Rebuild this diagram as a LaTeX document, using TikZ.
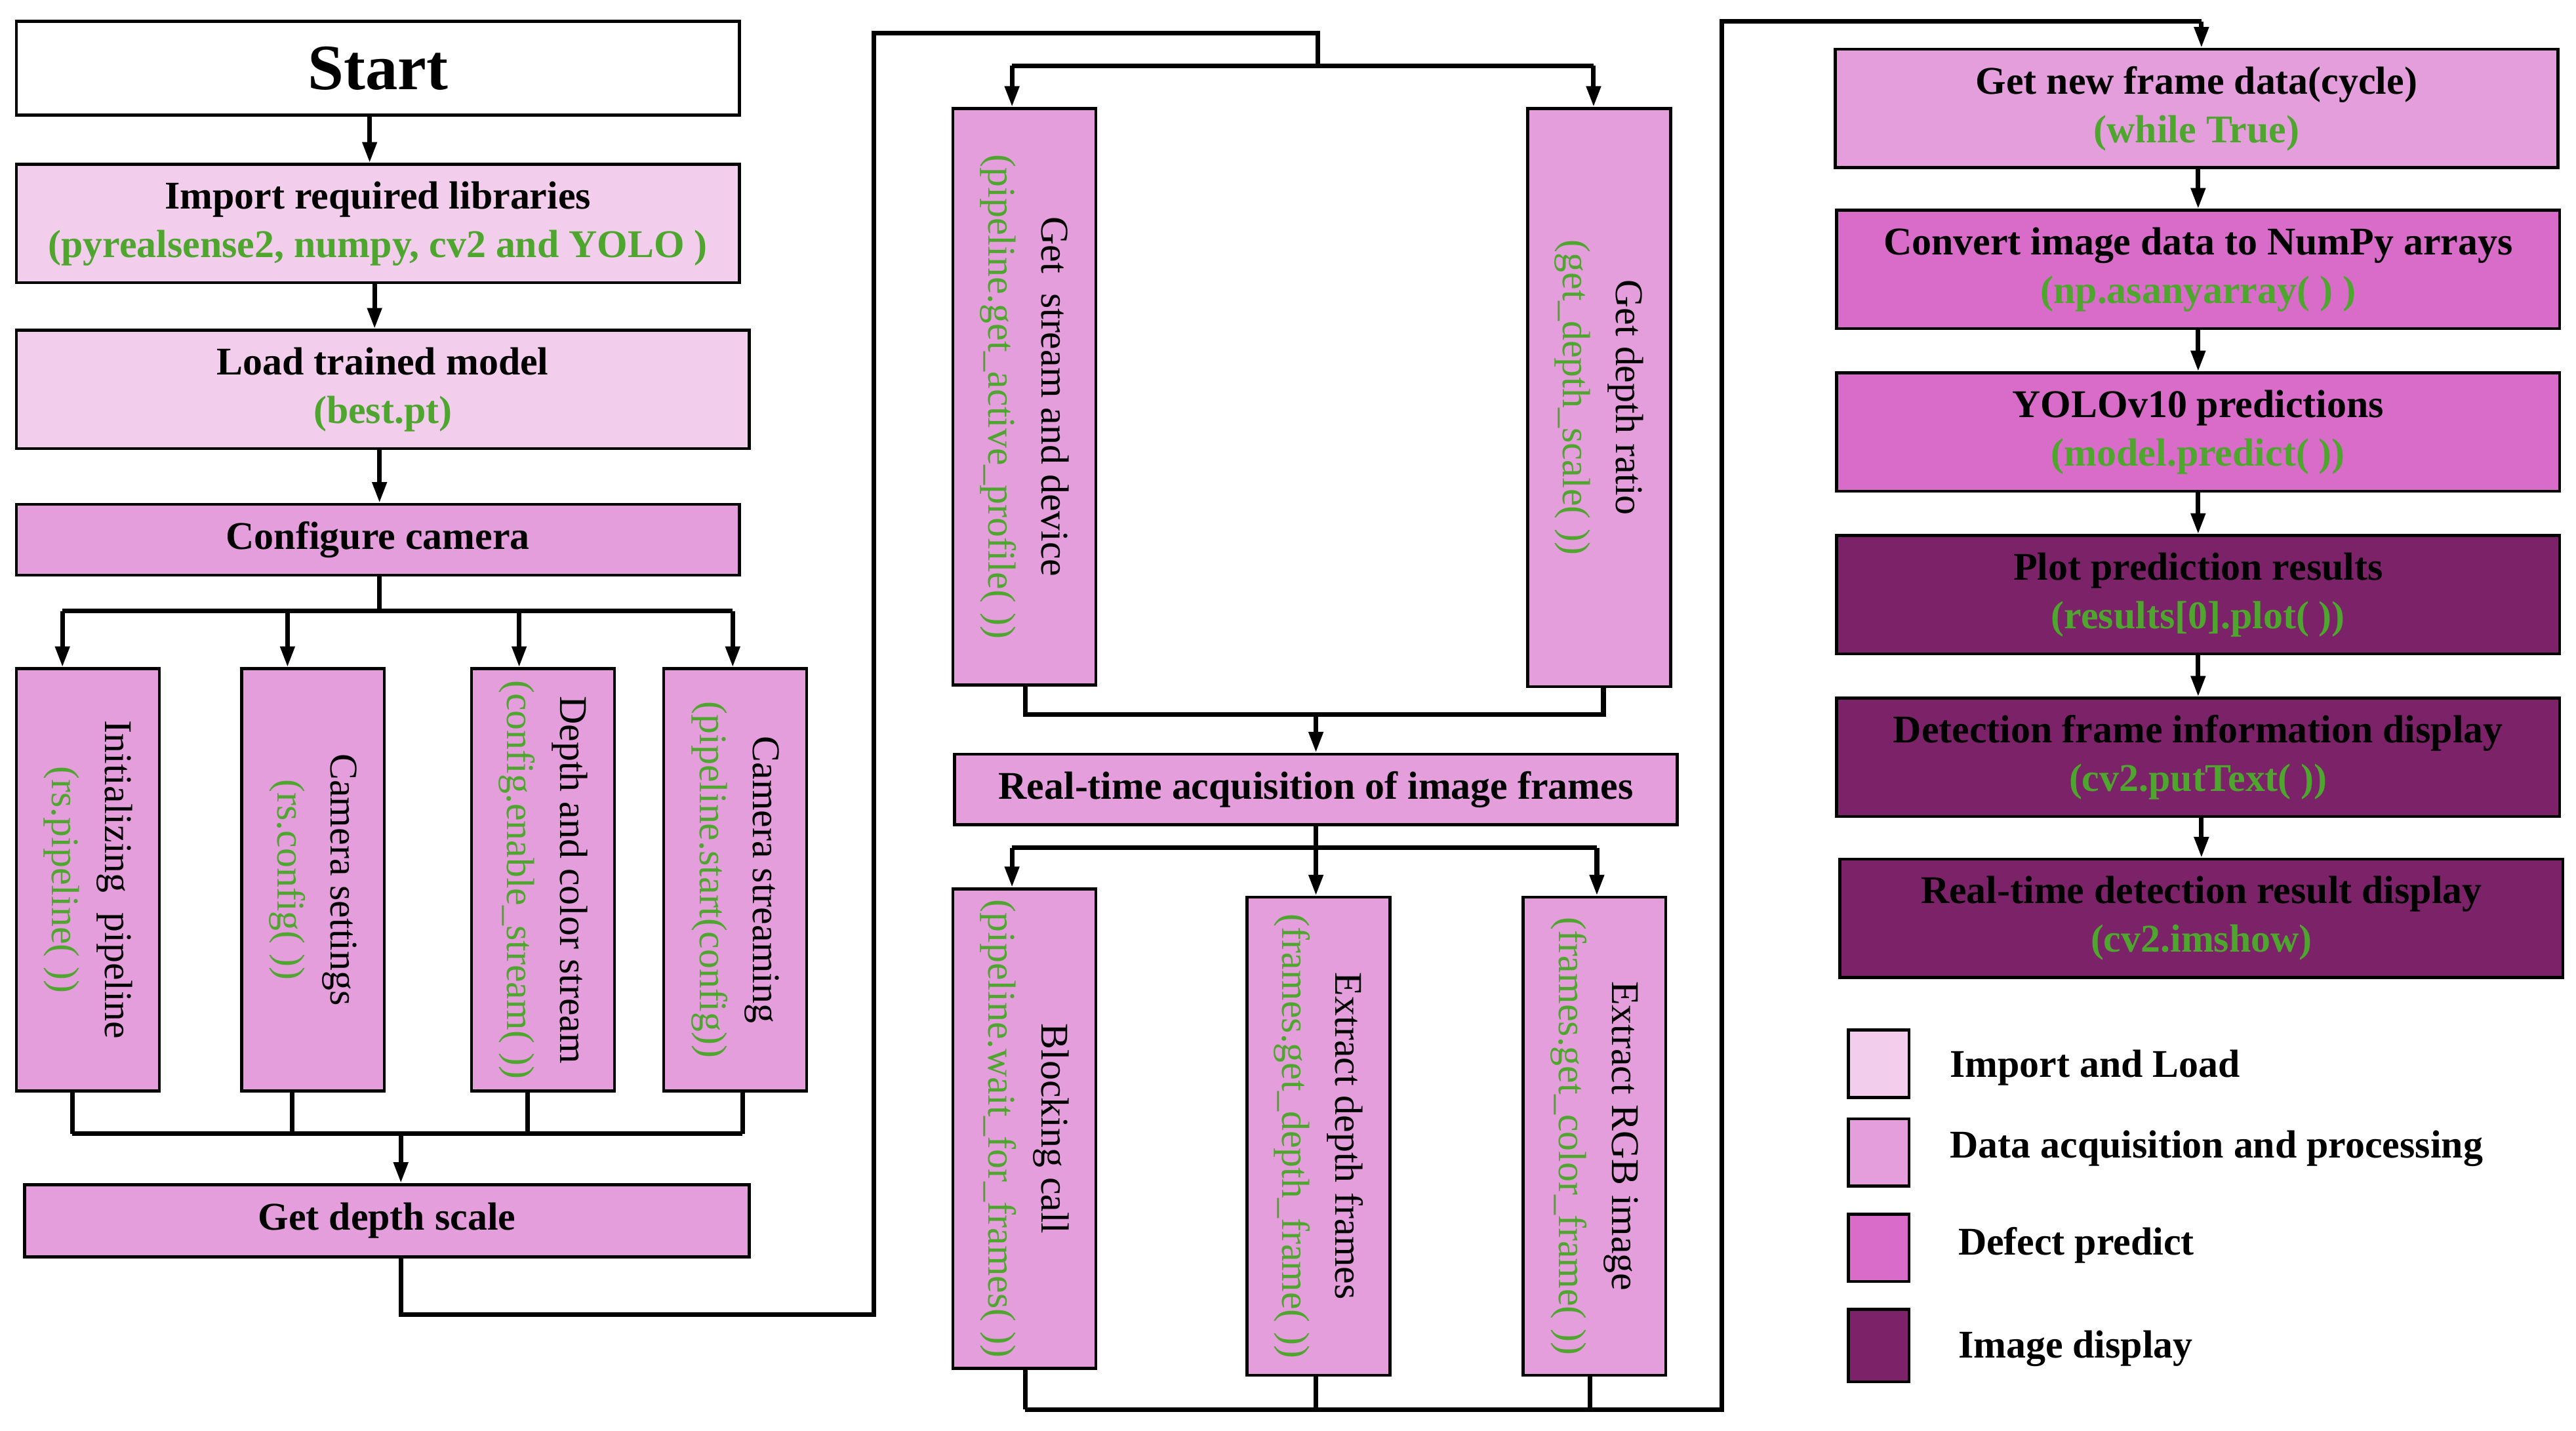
\documentclass[tikz,border=0pt]{standalone}
\usepackage{fontspec}
\setmainfont{Liberation Serif}
\usetikzlibrary{arrows.meta}
\definecolor{cLight}{HTML}{F2CDEC}
\definecolor{cMed}{HTML}{E49EDC}
\definecolor{cDef}{HTML}{D86CC8}
\definecolor{cDark}{HTML}{7B2268}
\definecolor{cGreen}{HTML}{4EA62E}
\newcommand\mybox[7]{\node[bx,#6, minimum width={#4*0.025cm-#2*0.025cm}, minimum height={#5*0.025cm-#3*0.025cm}] (#1) at ({(#2+#4)/2},{(#3+#5)/2}) {#7};}
\newcommand\gr[1]{\textcolor{cGreen}{#1}}
\begin{document}
\begin{tikzpicture}[x=0.025cm,y=-0.025cm,
  bx/.style={draw=black,line width=1.3pt,inner sep=0pt,align=center,font=\fontsize{17}{21}\selectfont\bfseries},
  rt/.style={rotate=-90,align=center,font=\fontsize{17}{23}\selectfont},
  ln/.style={line width=2pt},
  ar/.style={line width=2pt,-{Triangle[length=9pt,width=6pt]}},
  lg/.style={anchor=west,font=\fontsize{17}{21}\selectfont\bfseries}]
\useasboundingbox (0,0) rectangle (1568,871);
% left column
\mybox{start}{10}{13}{450}{70}{fill=white,font=\fontsize{28}{32}\selectfont\bfseries}{Start}
\mybox{imp}{10}{100}{450}{172}{fill=cLight}{Import required libraries\\\gr{(pyrealsense2, numpy, cv2 and YOLO )}}
\mybox{load}{10}{201}{456}{273}{fill=cLight}{Load trained model\\\gr{(best.pt)}}
\mybox{cfg}{10}{307}{450}{350}{fill=cMed}{Configure camera}
\mybox{v1}{10}{407}{97}{664}{fill=cMed}{}
\mybox{v2}{147}{407}{234}{664}{fill=cMed}{}
\mybox{v3}{287}{407}{374}{664}{fill=cMed}{}
\mybox{v4}{404}{407}{491}{664}{fill=cMed}{}
\node[rt] at (v1.center) {Initializing\ \ pipeline\\\gr{(rs.pipeline( ))}};
\node[rt] at (v2.center) {Camera settings\\\gr{(rs.config( ))}};
\node[rt] at (v3.center) {Depth and color stream\\\gr{(config.enable\_stream( ))}};
\node[rt] at (v4.center) {Camera streaming\\\gr{(pipeline.start(config))}};
\mybox{gds}{15}{721}{456}{765}{fill=cMed}{Get depth scale}
% middle column
\mybox{m1}{580}{66}{667}{417}{fill=cMed}{}
\mybox{m2}{930}{66}{1017}{418}{fill=cMed}{}
\node[rt] at (m1.center) {Get\ \ stream and device\\\gr{(pipeline.get\_active\_profile( ))}};
\node[rt] at (m2.center) {Get depth ratio\\\gr{(get\_depth\_scale( ))}};
\mybox{acq}{581}{459}{1021}{502}{fill=cMed}{Real-time acquisition of image frames}
\mybox{b1}{580}{541}{667}{833}{fill=cMed}{}
\mybox{b2}{759}{546}{846}{837}{fill=cMed}{}
\mybox{b3}{927}{546}{1014}{837}{fill=cMed}{}
\node[rt] at (b1.center) {Blocking call\\\gr{(pipeline.wait\_for\_frames( ))}};
\node[rt] at (b2.center) {Extract depth frames\\\gr{(frames.get\_depth\_frame( ))}};
\node[rt] at (b3.center) {Extract RGB image\\\gr{(frames.get\_color\_frame( ))}};
% right column
\mybox{r1}{1117}{30}{1557}{102}{fill=cMed}{Get new frame data(cycle)\\\gr{(while True)}}
\mybox{r2}{1118}{128}{1558}{200}{fill=cDef}{Convert image data to NumPy arrays\\\gr{(np.asanyarray( ) )}}
\mybox{r3}{1118}{227}{1558}{299}{fill=cDef}{YOLOv10 predictions\\\gr{(model.predict( ))}}
\mybox{r4}{1118}{326}{1558}{398}{fill=cDark}{Plot prediction results\\\gr{(results[0].plot( ))}}
\mybox{r5}{1118}{425}{1558}{497}{fill=cDark}{Detection frame information display\\\gr{(cv2.putText( ))}}
\mybox{r6}{1120}{523}{1560}{595}{fill=cDark}{Real-time detection result display\\\gr{(cv2.imshow)}}
% legend
\mybox{k1}{1125}{627}{1162}{668}{fill=cLight}{}
\mybox{k2}{1125}{681}{1162}{722}{fill=cMed}{}
\mybox{k3}{1125}{739}{1162}{780}{fill=cDef}{}
\mybox{k4}{1125}{797}{1162}{841}{fill=cDark}{}
\node[lg] (t1) at (1182,650) {Import and Load};
\node[lg] (t2) at (1182,699) {Data acquisition and processing};
\node[lg] (t3) at (1187,758) {Defect predict};
\node[lg] (t4) at (1187,821) {Image display};
% connectors left
\draw[ar] (225,70) -- (imp.north -| 225,0);
\draw[ar] (228,172) -- (load.north -| 228,0);
\draw[ar] (231,273) -- (cfg.north -| 231,0);
\coordinate (h1) at (231,372);
\draw[ln] (cfg.south -| h1) -- (h1);
\draw[ln] (38,372) -- (446,372);
\foreach \x/\n in {38/v1,175/v2,316/v3,446/v4} \draw[ar] (\x,372) -- (\n.north -| \x,0);
\foreach \x/\n in {44/v1,178/v2,321/v3,452/v4} \draw[ln] (\n.south -| \x,0) -- (\x,690);
\draw[ln] (44,690) -- (452,690);
\draw[ar] (244,690) -- (gds.north -| 244,0);
% to middle
\coordinate (j1) at (532,800);
\coordinate (j2) at (802,20);
\draw[ln] (gds.south -| 244,0) -- (244,800) -- (j1) -- (532,20) -- (j2) -- (802,40);
\draw[ln] (616,40) -- (970,40);
\draw[ar] (616,40) -- (m1.north -| 616,0);
\draw[ar] (970,40) -- (m2.north -| 970,0);
\draw[ln] (m1.south -| 624,0) -- (624,435) -- (976,435) -- (m2.south -| 976,0);
\draw[ar] (801,435) -- (acq.north -| 801,0);
\draw[ln] (acq.south -| 801,0) -- (801,516);
\draw[ln] (616,516) -- (972,516);
\draw[ar] (616,516) -- (b1.north -| 616,0);
\draw[ar] (801,516) -- (b2.north -| 801,0);
\draw[ar] (972,516) -- (b3.north -| 972,0);
\draw[ln] (b1.south -| 624,0) -- (624,858);
\draw[ln] (b2.south -| 801,0) -- (801,858);
\draw[ln] (b3.south -| 968,0) -- (968,858);
\draw[ln] (624,858) -- (1048,858) -- (1048,13) -- (1340,13);
\draw[ar] (1340,13) -- (r1.north -| 1340,0);
% right chain
\draw[ar] (r1.south -| 1338,0) -- (r2.north -| 1338,0);
\draw[ar] (r2.south -| 1338,0) -- (r3.north -| 1338,0);
\draw[ar] (r3.south -| 1338,0) -- (r4.north -| 1338,0);
\draw[ar] (r4.south -| 1338,0) -- (r5.north -| 1338,0);
\draw[ar] (r5.south -| 1340,0) -- (r6.north -| 1340,0);
\end{tikzpicture}
\end{document}
